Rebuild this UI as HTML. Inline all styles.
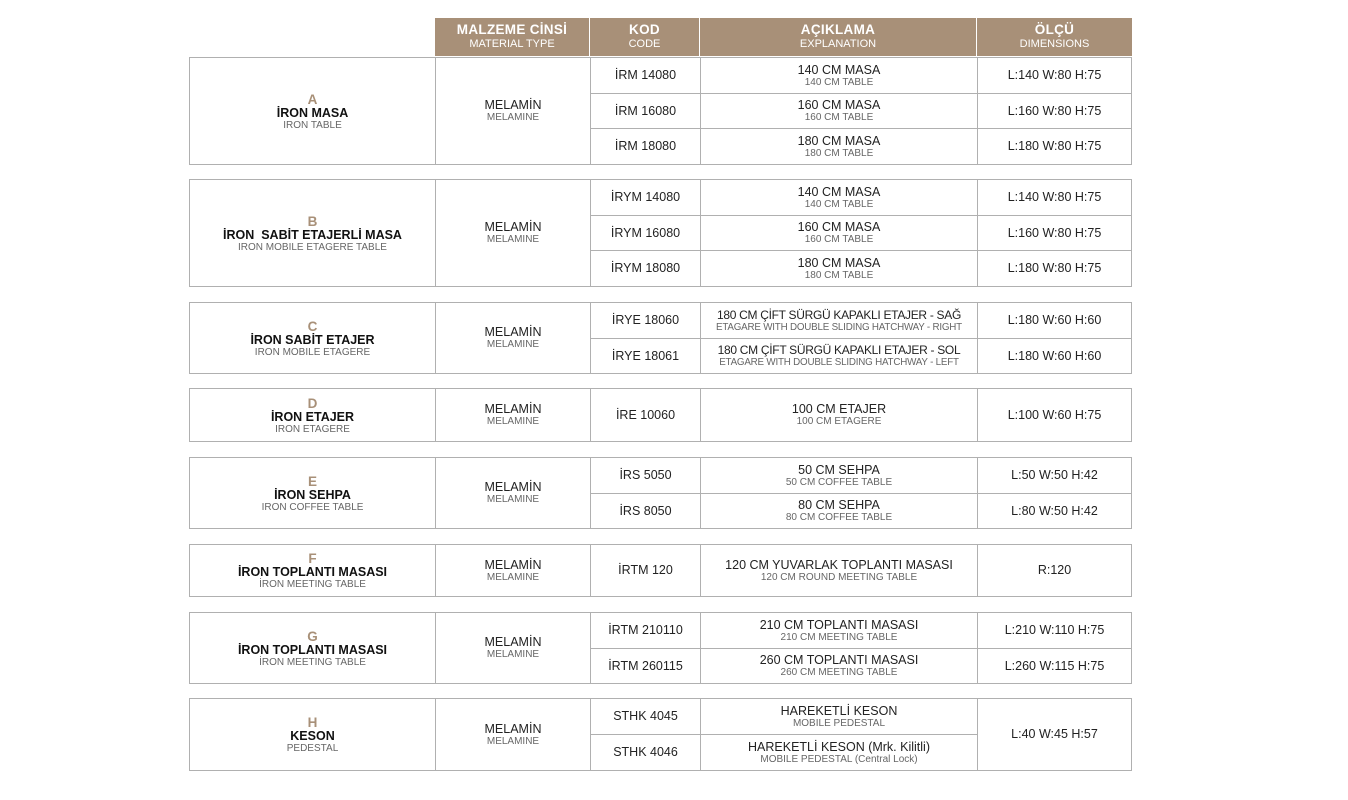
<!DOCTYPE html>
<html><head><meta charset="utf-8"><style>
body{margin:0;width:1348px;height:800px;background:#fff;position:relative;font-family:"Liberation Sans",sans-serif;overflow:hidden}
.hd{position:absolute;top:18px;height:38px;background:#a89078;color:#fff;text-align:center;box-sizing:border-box;border-right:1px solid #fff}
.hd b{display:block;font-size:13.5px;margin-top:4px;font-weight:bold;letter-spacing:.3px}
.hd span{display:block;font-size:11px;margin-top:1px}
table{position:absolute;left:189px;width:943px;border-collapse:collapse;table-layout:fixed}
td{border:1px solid #b0b0b0;text-align:center;vertical-align:middle;padding:0;color:#222;font-size:12.5px;line-height:13px}
.s{display:block;font-size:10px;color:#666;line-height:11px}
.L{display:block;color:#a89078;font-weight:bold;font-size:13.5px;line-height:15px}
.N{display:block;font-weight:bold;font-size:12.5px;color:#111}
.c1{width:246px}.c2{width:155px}.c3{width:110px}.c4{width:277px}.c5{width:154px}
.sm{font-size:12px;letter-spacing:-.3px}.sm .s{font-size:9.8px;letter-spacing:-.2px}
</style></head><body>
<div class="hd" style="left:435px;width:155px"><b>MALZEME CİNSİ</b><span>MATERIAL TYPE</span></div>
<div class="hd" style="left:590px;width:110px"><b>KOD</b><span>CODE</span></div>
<div class="hd" style="left:700px;width:277px"><b>AÇIKLAMA</b><span>EXPLANATION</span></div>
<div class="hd" style="left:977px;width:155px;border-right:0"><b>ÖLÇÜ</b><span>DIMENSIONS</span></div>

<table style="top:57px"><colgroup><col class="c1"><col class="c2"><col class="c3"><col class="c4"><col class="c5"></colgroup>
<tr style="height:36px"><td rowspan="3"><span class="L">A</span><span class="N">İRON MASA</span><span class="s">IRON TABLE</span></td><td rowspan="3">MELAMİN<span class="s">MELAMINE</span></td><td>İRM 14080</td><td>140 CM MASA<span class="s">140 CM TABLE</span></td><td>L:140 W:80 H:75</td></tr>
<tr style="height:35px"><td>İRM 16080</td><td>160 CM MASA<span class="s">160 CM TABLE</span></td><td>L:160 W:80 H:75</td></tr>
<tr style="height:36px"><td>İRM 18080</td><td>180 CM MASA<span class="s">180 CM TABLE</span></td><td>L:180 W:80 H:75</td></tr>
</table>

<table style="top:179px"><colgroup><col class="c1"><col class="c2"><col class="c3"><col class="c4"><col class="c5"></colgroup>
<tr style="height:36px"><td rowspan="3"><span class="L">B</span><span class="N">İRON &nbsp;SABİT ETAJERLİ MASA</span><span class="s">IRON MOBILE ETAGERE TABLE</span></td><td rowspan="3">MELAMİN<span class="s">MELAMINE</span></td><td>İRYM 14080</td><td>140 CM MASA<span class="s">140 CM TABLE</span></td><td>L:140 W:80 H:75</td></tr>
<tr style="height:35px"><td>İRYM 16080</td><td>160 CM MASA<span class="s">160 CM TABLE</span></td><td>L:160 W:80 H:75</td></tr>
<tr style="height:36px"><td>İRYM 18080</td><td>180 CM MASA<span class="s">180 CM TABLE</span></td><td>L:180 W:80 H:75</td></tr>
</table>

<table style="top:302px"><colgroup><col class="c1"><col class="c2"><col class="c3"><col class="c4"><col class="c5"></colgroup>
<tr style="height:36px"><td rowspan="2"><span class="L">C</span><span class="N">İRON SABİT ETAJER</span><span class="s">IRON MOBILE ETAGERE</span></td><td rowspan="2">MELAMİN<span class="s">MELAMINE</span></td><td>İRYE 18060</td><td class="sm">180 CM ÇİFT SÜRGÜ KAPAKLI ETAJER - SAĞ<span class="s">ETAGARE WITH DOUBLE SLIDING HATCHWAY - RIGHT</span></td><td>L:180 W:60 H:60</td></tr>
<tr style="height:35px"><td>İRYE 18061</td><td class="sm">180 CM ÇİFT SÜRGÜ KAPAKLI ETAJER - SOL<span class="s">ETAGARE WITH DOUBLE SLIDING HATCHWAY - LEFT</span></td><td>L:180 W:60 H:60</td></tr>
</table>

<table style="top:388px"><colgroup><col class="c1"><col class="c2"><col class="c3"><col class="c4"><col class="c5"></colgroup>
<tr style="height:53px"><td><span class="L">D</span><span class="N">İRON ETAJER</span><span class="s">IRON ETAGERE</span></td><td>MELAMİN<span class="s">MELAMINE</span></td><td>İRE 10060</td><td>100 CM ETAJER<span class="s">100 CM ETAGERE</span></td><td>L:100 W:60 H:75</td></tr>
</table>

<table style="top:457px"><colgroup><col class="c1"><col class="c2"><col class="c3"><col class="c4"><col class="c5"></colgroup>
<tr style="height:36px"><td rowspan="2"><span class="L">E</span><span class="N">İRON SEHPA</span><span class="s">IRON COFFEE TABLE</span></td><td rowspan="2">MELAMİN<span class="s">MELAMINE</span></td><td>İRS 5050</td><td>50 CM SEHPA<span class="s">50 CM COFFEE TABLE</span></td><td>L:50 W:50 H:42</td></tr>
<tr style="height:35px"><td>İRS 8050</td><td>80 CM SEHPA<span class="s">80 CM COFFEE TABLE</span></td><td>L:80 W:50 H:42</td></tr>
</table>

<table style="top:544px"><colgroup><col class="c1"><col class="c2"><col class="c3"><col class="c4"><col class="c5"></colgroup>
<tr style="height:52px"><td><span class="L">F</span><span class="N">İRON TOPLANTI MASASI</span><span class="s">İRON MEETING TABLE</span></td><td>MELAMİN<span class="s">MELAMINE</span></td><td>İRTM 120</td><td>120 CM YUVARLAK TOPLANTI MASASI<span class="s">120 CM ROUND MEETING TABLE</span></td><td>R:120</td></tr>
</table>

<table style="top:612px"><colgroup><col class="c1"><col class="c2"><col class="c3"><col class="c4"><col class="c5"></colgroup>
<tr style="height:36px"><td rowspan="2"><span class="L">G</span><span class="N">İRON TOPLANTI MASASI</span><span class="s">İRON MEETING TABLE</span></td><td rowspan="2">MELAMİN<span class="s">MELAMINE</span></td><td>İRTM 210110</td><td>210 CM TOPLANTI MASASI<span class="s">210 CM MEETING TABLE</span></td><td>L:210 W:110 H:75</td></tr>
<tr style="height:35px"><td>İRTM 260115</td><td>260 CM TOPLANTI MASASI<span class="s">260 CM MEETING TABLE</span></td><td>L:260 W:115 H:75</td></tr>
</table>

<table style="top:698px"><colgroup><col class="c1"><col class="c2"><col class="c3"><col class="c4"><col class="c5"></colgroup>
<tr style="height:36px"><td rowspan="2"><span class="L">H</span><span class="N">KESON</span><span class="s">PEDESTAL</span></td><td rowspan="2">MELAMİN<span class="s">MELAMINE</span></td><td>STHK 4045</td><td>HAREKETLİ KESON<span class="s">MOBILE PEDESTAL</span></td><td rowspan="2">L:40 W:45 H:57</td></tr>
<tr style="height:36px"><td>STHK 4046</td><td>HAREKETLİ KESON (Mrk. Kilitli)<span class="s">MOBILE PEDESTAL (Central Lock)</span></td></tr>
</table>
</body></html>
